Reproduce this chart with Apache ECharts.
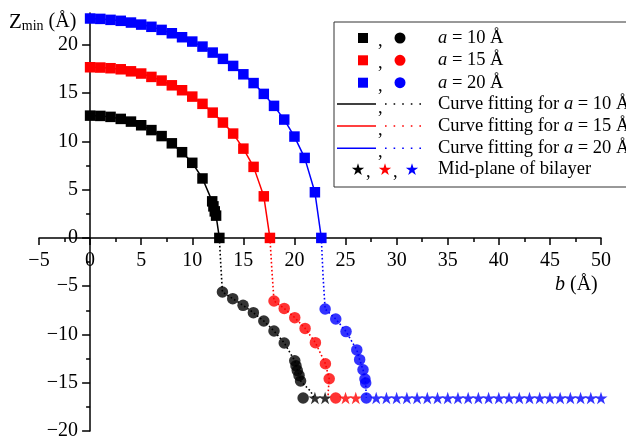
<!DOCTYPE html>
<html>
<head>
<meta charset="utf-8">
<script src="https://cdn.jsdelivr.net/npm/echarts@6/dist/echarts.min.js"></script>
<style>html,body{margin:0;padding:0;background:#fff}#c{width:626px;height:438px}</style>
</head>
<body>
<div id="c"></div>
<script>
// ---- data ----
const xTicks = [-5, 0, 5, 10, 15, 20, 25, 30, 35, 40, 45, 50];
const yTicks = [-20, -15, -10, -5, 0, 5, 10, 15, 20];
const yMinorTicks = [-17.5, -12.5, -7.5, -2.5, 2.5, 7.5, 12.5, 17.5, 22.5];

// squares (upper branch), a = 10, 15, 20
const sq10 = [[0,12.67],[1,12.64],[2,12.54],[3,12.33],[4,12.05],[5,11.67],[6,11.17],[7,10.55],[8,9.80],[9,8.88],[10,7.78],[11,6.16],[11.95,3.79],[12.07,3.27],[12.2,2.75],[12.33,2.31],[12.65,0]];
const sq15 = [[0,17.68],[1,17.65],[2,17.58],[3,17.47],[4,17.26],[5,17.03],[6,16.68],[7,16.30],[8,15.81],[9,15.30],[10,14.64],[11,13.89],[12,12.98],[13,11.95],[14,10.81],[15,9.25],[16,7.36],[17,4.31],[17.6,0]];
const sq20 = [[0,22.73],[1,22.69],[2,22.59],[3,22.49],[4,22.31],[5,22.10],[6,21.87],[7,21.55],[8,21.20],[9,20.79],[10,20.34],[11,19.82],[12,19.20],[13,18.55],[14,17.82],[15,16.95],[16,16.04],[17,14.92],[18,13.68],[19,12.26],[20,10.50],[21,8.29],[22,4.73],[22.63,0]];

// circles (lower branch)
const cir10 = [[12.95,-5.6],[13.96,-6.29],[14.97,-6.98],[15.98,-7.74],[17,-8.6],[18,-9.64],[19,-10.88],[20.03,-12.72],[20.15,-13.24],[20.28,-13.73],[20.45,-14.24],[20.6,-14.82],[20.85,-16.58]];
const cir15 = [[18,-6.53],[19,-7.3],[20.03,-8.26],[21.04,-9.37],[22.05,-10.85],[23.03,-13.03],[23.4,-14.59],[24.04,-16.58]];
const cir20 = [[23,-7.36],[24.04,-8.4],[25.05,-9.7],[26.1,-11.6],[26.38,-12.61],[26.71,-13.65],[26.9,-14.61],[26.97,-15.03],[27.03,-16.58]];

// dotted fitting curves (lower branch)
const fit10 = [[12.65,0],[12.8,-3],[12.95,-5.6],[13.96,-6.29],[14.97,-6.98],[15.98,-7.74],[17,-8.6],[18,-9.64],[19,-10.88],[20.03,-12.72],[20.3,-13.73],[20.6,-14.82],[21.6,-15.9],[21.9,-16.58]];
const fit15 = [[17.6,0],[17.8,-3.5],[18,-6.53],[19,-7.3],[20.03,-8.26],[21.04,-9.37],[22.05,-10.85],[23.03,-13.03],[23.4,-14.59],[23.3,-16.0],[23.3,-16.58]];
const fit20 = [[22.63,0],[22.8,-4],[23,-7.36],[24.04,-8.4],[25.05,-9.7],[26.1,-11.6],[26.38,-12.61],[26.71,-13.65],[26.9,-14.61],[26.97,-15.03],[27.03,-16.58]];

// mid-plane of bilayer (stars)
const midPlane = -16.58;
const starX10 = [22, 23];
const starX15 = [25, 26];
const starX20 = [28,29,30,31,32,33,34,35,36,37,38,39,40,41,42,43,44,45,46,47,48,49,50];

const BLACK = '#000000', RED = '#ff0000', BLUE = '#0000ff';
const FONT = 'Liberation Serif';
const STAR = 'path://M50,2 L61.2,36.5 L97.6,36.5 L68.2,57.9 L79.4,92.4 L50,71.1 L20.6,92.4 L31.8,57.9 L2.4,36.5 L38.8,36.5 Z';

const minus = v => (v < 0 ? '\u2212' + (-v) : String(v));

function group(color, sq, cir, fit, starX) {
  return [
    { type: 'line', data: sq, symbol: 'rect', symbolSize: 10.5, showSymbol: true, clip: false,
      lineStyle: { color, width: 1.5 }, itemStyle: { color }, z: 3 },
    { type: 'line', data: fit, symbol: 'none', clip: false,
      lineStyle: { color, width: 1.6, type: [1.6, 2.4] }, z: 2 },
    { type: 'scatter', data: cir, symbol: 'circle', symbolSize: 11.5, clip: false,
      itemStyle: { color }, z: 3 },
    { type: 'scatter', data: starX.map(x => [x, midPlane]), symbol: STAR, symbolKeepAspect: true,
      symbolSize: 13, clip: false, itemStyle: { color }, z: 3 }
  ];
}

function starPoints(cx, cy, R) {
  const pts = [];
  const r = R * 0.382;
  for (let k = 0; k < 10; k++) {
    const ang = -Math.PI / 2 + k * Math.PI / 5;
    const rr = k % 2 === 0 ? R : r;
    pts.push([cx + rr * Math.cos(ang), cy + rr * Math.sin(ang)]);
  }
  return pts;
}

const chart = echarts.init(document.getElementById('c'), null, { renderer: 'canvas' });

const L = { left: 334, top: 22, bottom: 187 };
const rowsY = [38, 60.3, 82.7, 104, 126, 148.3, 169.3];
const cols = [BLACK, RED, BLUE];
const labels = ['10', '15', '20'];
const g = [];
g.push({ type: 'rect', shape: { x: L.left, y: L.top, width: 320, height: L.bottom - L.top },
  style: { fill: '#fff', stroke: '#333', lineWidth: 1 }, z: 10 });
const textStyle = (x, y, text) => ({ type: 'text', x, y, z: 11,
  style: { text, x: 0, y: 0, fill: '#000', font: '18.5px ' + FONT, textVerticalAlign: 'middle',
    rich: { i: { fontStyle: 'italic', fontFamily: FONT, fontSize: 18.5 } } } });
for (let i = 0; i < 3; i++) {
  const y = rowsY[i], c = cols[i];
  g.push({ type: 'rect', shape: { x: 358, y: y - 5, width: 10, height: 10 }, style: { fill: c }, z: 11 });
  g.push(textStyle(378, y + 3, ','));
  g.push({ type: 'circle', shape: { cx: 400, cy: y, r: 5.5 }, style: { fill: c }, z: 11 });
  g.push(textStyle(438, y, '{i|a} = ' + labels[i] + ' Å'));
}
for (let i = 0; i < 3; i++) {
  const y = rowsY[3 + i], c = cols[i];
  g.push({ type: 'line', shape: { x1: 337, y1: y, x2: 376, y2: y }, style: { stroke: c, lineWidth: 1.5 }, z: 11 });
  g.push(textStyle(378, y + 4, ','));
  g.push({ type: 'line', shape: { x1: 385, y1: y, x2: 423, y2: y }, style: { stroke: c, lineWidth: 1.6, lineDash: [1.6, 7] }, z: 11 });
  g.push(textStyle(438, y, 'Curve fitting for {i|a} = ' + labels[i] + ' Å'));
}
{
  const y = rowsY[6];
  [[358, BLACK], [385, RED], [412, BLUE]].forEach(([x, c]) => {
    g.push({ type: 'polygon', shape: { points: starPoints(x, y + 0.5, 6.5) }, style: { fill: c }, z: 11 });
  });
  g.push(textStyle(366, y + 3, ','));
  g.push(textStyle(393, y + 3, ','));
  g.push(textStyle(438, y, 'Mid-plane of bilayer'));
}
g.push({ type: 'text', x: 9, y: 22, z: 11, style: { text: '{z|Z}{s|min}{t| (Å)}', textVerticalAlign: 'middle', fill: '#000',
  rich: { z: { fontFamily: FONT, fontSize: 21 }, s: { fontFamily: FONT, fontSize: 14, padding: [8, 0, 0, 0] }, t: { fontFamily: FONT, fontSize: 20 } } } });
g.push({ type: 'text', x: 555, y: 285, z: 11, style: { text: '{i|b} (Å)', textVerticalAlign: 'middle', fill: '#000', font: '20px ' + FONT,
  rich: { i: { fontStyle: 'italic', fontFamily: FONT, fontSize: 20 } } } });

const tickStyle = { color: '#000', width: 1.5 };
const labelStyle = { color: '#000', fontFamily: FONT, fontSize: 20 };

function buildOption(xOff, yOff) {
  return {
    animation: false,
    backgroundColor: '#fff',
    grid: { left: 39, right: 25, top: 13, bottom: 7, containLabel: false, outerBoundsMode: 'none' },
    xAxis: {
      type: 'value', min: -5, max: 50, interval: 5, position: 'bottom', offset: xOff,
      splitLine: { show: false },
      axisLine: { show: true, onZero: false, lineStyle: tickStyle },
      axisTick: { show: true, length: 7, lineStyle: tickStyle },
      minorTick: { show: true, splitNumber: 2, length: 4, lineStyle: tickStyle },
      axisLabel: Object.assign({ margin: 13, formatter: minus }, labelStyle)
    },
    yAxis: [
      {
        type: 'value', min: -20, max: 23.3, interval: 5, position: 'left', offset: yOff,
        splitLine: { show: false },
        axisLine: { show: true, onZero: false, lineStyle: tickStyle },
        axisTick: { show: true, length: 8, customValues: yTicks, lineStyle: tickStyle },
        axisLabel: Object.assign({ margin: 12, customValues: yTicks, formatter: minus }, labelStyle)
      },
      {
        type: 'value', min: -20, max: 23.3, interval: 5, position: 'left', offset: yOff,
        splitLine: { show: false },
        axisLine: { show: false, onZero: false },
        axisLabel: { show: false },
        axisTick: { show: true, length: 4, customValues: yMinorTicks, lineStyle: tickStyle }
      }
    ],
    graphic: g,
    series: [].concat(
      group(BLACK, sq10, cir10, fit10, starX10),
      group(RED, sq15, cir15, fit15, starX15),
      group(BLUE, sq20, cir20, fit20, starX20)
    )
  };
}

chart.setOption(buildOption(0, 0));
// place the axes so they cross at the data origin (0, 0), using the chart's own scales
const origin = chart.convertToPixel({ gridIndex: 0 }, [0, 0]);
const corner = chart.convertToPixel({ gridIndex: 0 }, [-5, -20]);
const xOffset = origin[1] - corner[1];
const yOffset = corner[0] - origin[0];
chart.setOption(buildOption(xOffset, yOffset), true);
</script>
</body>
</html>
